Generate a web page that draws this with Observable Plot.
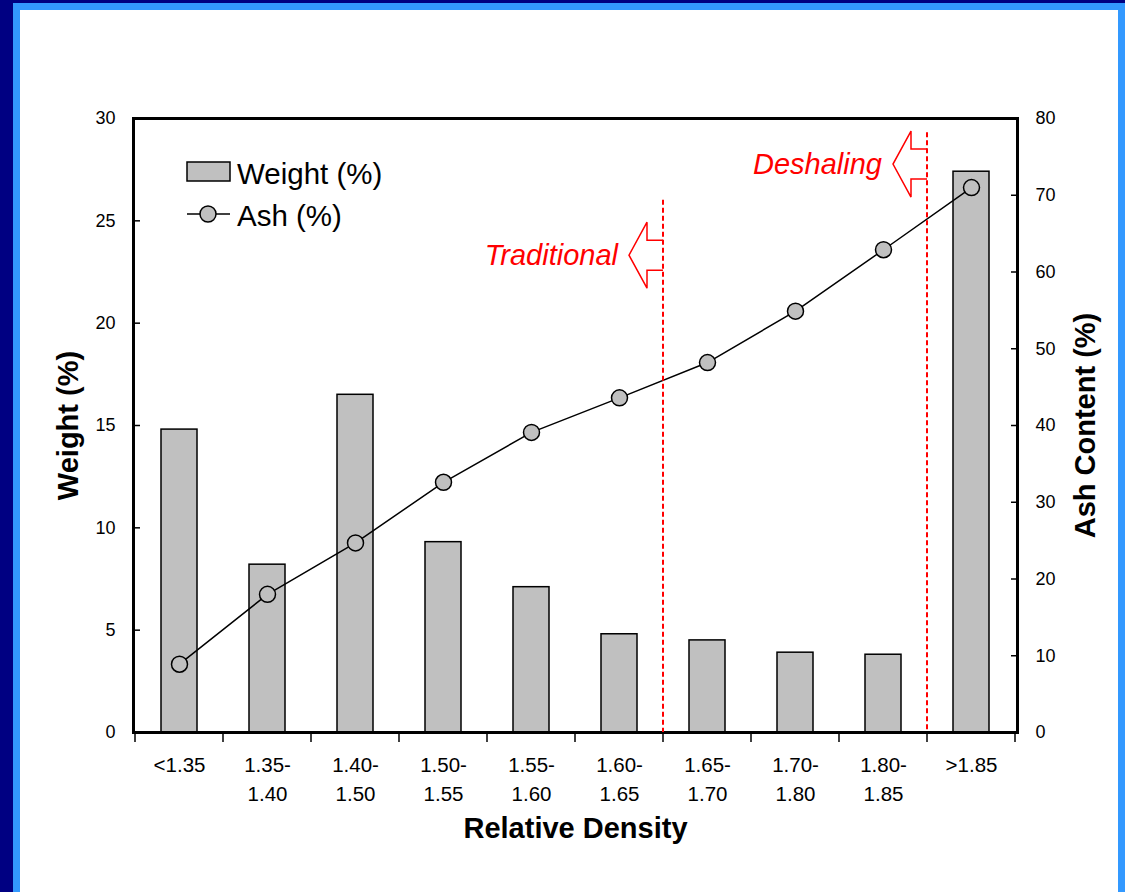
<!DOCTYPE html>
<html><head><meta charset="utf-8">
<script src="https://cdn.jsdelivr.net/npm/d3@7"></script>
<script src="https://cdn.jsdelivr.net/npm/@observablehq/plot@0.6"></script>
<style>
html,body{margin:0;padding:0;width:1125px;height:892px;overflow:hidden;background:#000082;}
#border{position:absolute;left:13px;top:3px;width:1140px;height:920px;background:#3399ff;}
#panel{position:absolute;left:20px;top:10px;width:1098px;height:900px;background:#ffffff;}
#chart{position:absolute;left:0;top:0;}
</style></head><body>
<div id="border"></div><div id="panel"></div><div id="chart"></div>
<script>
const categories = ["<1.35","1.35-1.40","1.40-1.50","1.50-1.55","1.55-1.60","1.60-1.65","1.65-1.70","1.70-1.80","1.80-1.85",">1.85"];
const weightPct = [14.8, 8.2, 16.5, 9.3, 7.1, 4.8, 4.5, 3.9, 3.8, 27.4];
const ashPct = [8.9, 18.0, 24.7, 32.6, 39.1, 43.6, 48.2, 54.9, 62.9, 71.0];
const weightTicks = [0, 5, 10, 15, 20, 25, 30];
const ashTicks = [0, 10, 20, 30, 40, 50, 60, 70, 80];
const cutoffLabels = ["Traditional", "Deshaling"];
const cutoffAfter = ["1.60-1.65", "1.80-1.85"];
const cutoffTop = [26.0, 29.3];      // weight-axis units
const cutoffArrowY = [23.3, 27.75];  // weight-axis units
const legendLabels = ["Weight (%)", "Ash (%)"];

const k = 30 / 80; // ash axis -> weight axis
const rows = categories.map((c, i) => ({cat: c, weight: weightPct[i], ash: ashPct[i]}));
const FONT = "'Liberation Sans', Arial, Helvetica, sans-serif";

function annotations(index, scales, values, dims) {
  const x = scales.x, y = scales.y;
  const bw = x.bandwidth(), step = x.step();
  const g = d3.create("svg:g").attr("text-anchor", "start");
  // x boundary ticks (outward)
  const y0 = y(0);
  const bounds = categories.map(c => x(c) + bw / 2 - step / 2);
  bounds.push(x(categories[categories.length - 1]) + bw / 2 + step / 2);
  for (const b of bounds) {
    g.append("line").attr("x1", b).attr("x2", b).attr("y1", y0).attr("y2", y0 + 10)
      .attr("stroke", "#000").attr("stroke-width", 1.5);
  }
  // cutoff lines, arrows, labels
  cutoffLabels.forEach((lab, i) => {
    const bx = x(cutoffAfter[i]) + bw / 2 + step / 2;
    const cy = y(cutoffArrowY[i]);
    g.append("line").attr("x1", bx).attr("x2", bx).attr("y1", y(cutoffTop[i])).attr("y2", y0)
      .attr("stroke", "#ff0000").attr("stroke-width", 2).attr("stroke-dasharray", "5,3");
    const tip = bx - 34, base = bx - 16, hh = 33, sh = 15;
    const pts = [[bx, cy - sh], [base, cy - sh], [base, cy - hh], [tip, cy], [base, cy + hh], [base, cy + sh], [bx, cy + sh]];
    g.append("path").attr("d", "M" + pts.map(p => p.join(",")).join("L"))
      .attr("fill", "none").attr("stroke", "#ff0000").attr("stroke-width", 1.5);
    g.append("text").attr("x", bx - 45).attr("y", cy).attr("text-anchor", "end")
      .attr("dominant-baseline", "central").attr("font-style", "italic")
      .attr("font-size", 29).attr("fill", "#ff0000").attr("font-family", FONT).text(lab);
  });
  // legend
  const lx = dims.marginLeft + 54, ly = dims.marginTop + 44;
  g.append("rect").attr("x", lx).attr("y", ly).attr("width", 43).attr("height", 19)
    .attr("fill", "#c0c0c0").attr("stroke", "#000").attr("stroke-width", 1.5);
  g.append("text").attr("x", lx + 50).attr("y", ly + 11).attr("dominant-baseline", "central")
    .attr("text-anchor", "start")
    .attr("font-size", 29.5).attr("font-family", FONT).attr("fill", "#000").text(legendLabels[0]);
  const ly2 = ly + 52;
  g.append("line").attr("x1", lx).attr("x2", lx + 43).attr("y1", ly2).attr("y2", ly2)
    .attr("stroke", "#000").attr("stroke-width", 1.5);
  g.append("circle").attr("cx", lx + 21).attr("cy", ly2).attr("r", 8)
    .attr("fill", "#c0c0c0").attr("stroke", "#000").attr("stroke-width", 1.5);
  g.append("text").attr("x", lx + 50).attr("y", ly2 + 1).attr("dominant-baseline", "central")
    .attr("text-anchor", "start")
    .attr("font-size", 29.5).attr("font-family", FONT).attr("fill", "#000").text(legendLabels[1]);
  return g.node();
}

const plot = Plot.plot({
  width: 1125, height: 892,
  marginLeft: 133, marginRight: 108, marginTop: 118, marginBottom: 160,
  style: {background: "transparent", fontFamily: FONT, color: "#000", overflow: "visible"},
  x: {domain: categories, paddingInner: 0.59, paddingOuter: 0.295},
  y: {domain: [0, 30]},
  marks: [
    Plot.barY(rows, {x: "cat", y: "weight", fill: "#c0c0c0", stroke: "#000", strokeWidth: 1.5}),
    Plot.line(rows, {x: "cat", y: d => d.ash * k, stroke: "#000", strokeWidth: 1.5}),
    Plot.dot(rows, {x: "cat", y: d => d.ash * k, r: 8, fill: "#c0c0c0", stroke: "#000", strokeWidth: 1.5}),
    Plot.frame({stroke: "#000", strokeWidth: 3}),
    Plot.axisY(weightTicks, {anchor: "left", tickSize: -7, tickPadding: 25, fontSize: 18, strokeWidth: 1.5, label: null}),
    Plot.axisY(ashTicks.map(v => v * k), {anchor: "right", tickSize: -7, tickPadding: 25, fontSize: 18, strokeWidth: 1.5,
      tickFormat: v => String(Math.round(v / k)), label: null}),
    Plot.axisX({tickSize: 0, tickPadding: 20, fontSize: 20.5, lineHeight: 1.37,
      tickFormat: c => c.replace(/^(\d\.\d\d-)/, "$1\n"), label: null}),
    Plot.text(["Weight (%)"], {frameAnchor: "left", dx: -65, rotate: -90, textAnchor: "middle", lineAnchor: "middle",
      fontSize: 29, fontWeight: "bold", text: d => d}),
    Plot.text(["Ash Content (%)"], {frameAnchor: "right", dx: 68, rotate: -90, textAnchor: "middle", lineAnchor: "middle",
      fontSize: 29, fontWeight: "bold", text: d => d}),
    Plot.text(["Relative Density"], {frameAnchor: "bottom", dy: 96, textAnchor: "middle", lineAnchor: "middle",
      fontSize: 29, fontWeight: "bold", text: d => d}),
    annotations
  ]
});
document.getElementById("chart").appendChild(plot);
</script>
</body></html>
